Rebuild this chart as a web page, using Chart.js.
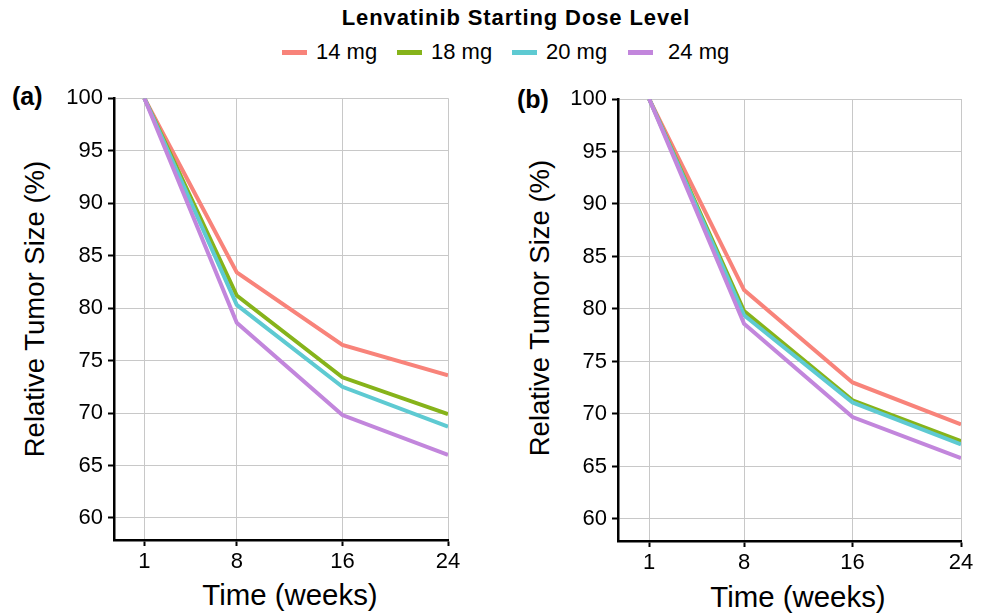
<!DOCTYPE html>
<html>
<head>
<meta charset="utf-8">
<script src="https://cdn.jsdelivr.net/npm/chart.js@4.4.1/dist/chart.umd.min.js"></script>
<style>
  body { margin: 0; background: #fff; font-family: "Liberation Sans", Arial, sans-serif; color: #000; }
  #wrap { position: relative; width: 986px; height: 615px; overflow: hidden; }
  canvas { position: absolute; }
  .txt { position: absolute; white-space: nowrap; line-height: 1; }
  .title { font-weight: bold; font-size: 22px; letter-spacing: 0.9px; transform: translate(-50%, -50%); }
  .leg { font-size: 22px; transform: translateY(-50%); display: flex; align-items: center; }
  .sw { display: inline-block; width: 25px; height: 5px; margin-right: 9px; }
  .panel { font-weight: bold; font-size: 25px; transform: translateY(-50%); }
  .ytitle { font-size: 27.5px; transform: translate(-50%, -50%) rotate(-90deg); }
  .xtitle { font-size: 29.4px; transform: translate(-50%, -50%); }
</style>
</head>
<body>
<div id="wrap">
  <div class="txt title" style="left:516px; top:18px;">Lenvatinib Starting Dose Level</div>
  <div id="legend"></div>

  <div class="txt panel" style="left:12px; top:96px;">(a)</div>
  <div class="txt panel" style="left:517px; top:99px;">(b)</div>

  <div class="txt ytitle" style="left:35px; top:309px;">Relative Tumor Size (%)</div>
  <div class="txt ytitle" style="left:540px; top:308px;">Relative Tumor Size (%)</div>
  <div class="txt xtitle" style="left:290px; top:595px;">Time (weeks)</div>
  <div class="txt xtitle" style="left:798px; top:597px;">Time (weeks)</div>

  <canvas id="chartA" width="470" height="535" style="left:0px; top:80px;"></canvas>
  <canvas id="chartB" width="486" height="535" style="left:500px; top:80px;"></canvas>
</div>

<script>
// 数据
const weeks = [1, 8, 16, 24];
const doses = ['14 mg', '18 mg', '20 mg', '24 mg'];
const doseColors = ['#f8837a', '#86b31a', '#5ecad2', '#c286dc'];
const xTicks = [1, 8, 16, 24];
const yTicks = [60, 65, 70, 75, 80, 85, 90, 95, 100];

// panel (a)
const a14 = [100, 83.4, 76.5, 73.6];
const a18 = [100, 81.2, 73.4, 69.9];
const a20 = [100, 80.3, 72.5, 68.7];
const a24 = [100, 78.6, 69.8, 66.0];

// panel (b)
const b14 = [100, 81.8, 73.0, 69.0];
const b18 = [100, 79.8, 71.3, 67.4];
const b20 = [100, 79.4, 71.1, 67.1];
const b24 = [100, 78.6, 69.7, 65.8];

// 图例（HTML）
const legendLeft = [282, 397, 512, 628];
const legendEl = document.getElementById('legend');
doses.forEach((d, i) => {
    const item = document.createElement('div');
    item.className = 'txt leg';
    item.style.left = legendLeft[i] + 'px';
    item.style.top = '52px';
    item.innerHTML = `<span class="sw" style="background:${doseColors[i]}"></span>${i === 3 ? '&nbsp;' : ''}${d}`;
    legendEl.appendChild(item);
});

function makeDatasets(series) {
    return series.map((vals, i) => ({
        label: doses[i],
        data: weeks.map((w, j) => ({ x: w, y: vals[j] })),
        borderColor: doseColors[i],
        backgroundColor: doseColors[i],
        borderWidth: 4,
        pointRadius: 0,
        tension: 0,
        fill: false,
        order: series.length - i   // 24 mg drawn on top
    }));
}

function makeChart(canvasId, series, opts) {
    const tickFont = { family: '"Liberation Sans", Arial, sans-serif', size: 22 };
    return new Chart(document.getElementById(canvasId), {
        type: 'line',
        data: { datasets: makeDatasets(series) },
        options: {
            responsive: false,
            animation: false,
            layout: { padding: { top: opts.padTop, right: opts.padRight, left: 0, bottom: 0 } },
            plugins: { legend: { display: false }, tooltip: { enabled: false } },
            scales: {
                x: {
                    type: 'linear',
                    min: -1.3,
                    max: 24,
                    afterBuildTicks: s => { s.ticks = xTicks.map(v => ({ value: v })); },
                    afterFit: s => { s.height = opts.xHeight; },
                    grid: { color: '#c8c8c8', lineWidth: 1, tickColor: '#000', tickWidth: 2, tickLength: 6 },
                    border: { color: '#000', width: 2.5 },
                    ticks: { color: '#000', font: tickFont, padding: 3, maxRotation: 0, autoSkip: false }
                },
                y: {
                    min: 57.9,
                    max: 100,
                    afterBuildTicks: s => { s.ticks = yTicks.map(v => ({ value: v })); },
                    afterFit: s => { s.width = opts.yWidth; },
                    grid: { color: '#c8c8c8', lineWidth: 1, tickColor: '#000', tickWidth: 2, tickLength: 6 },
                    border: { color: '#000', width: 2.5 },
                    ticks: { color: '#000', font: tickFont, padding: 5, autoSkip: false }
                }
            }
        }
    });
}

makeChart('chartA', [a14, a18, a20, a24], { padTop: 15, padRight: 22, xHeight: 75, yWidth: 114 });
makeChart('chartB', [b14, b18, b20, b24], { padTop: 19, padRight: 25, xHeight: 74, yWidth: 118 });
</script>
</body>
</html>
